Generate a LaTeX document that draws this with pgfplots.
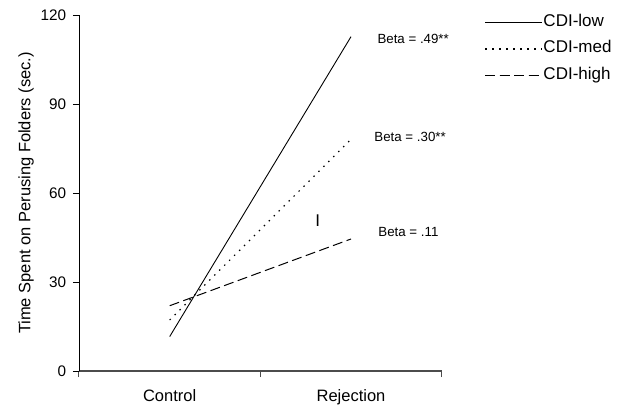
\documentclass[border=0pt]{standalone}
\usepackage{fontspec}
\setmainfont{Liberation Sans}
\usepackage{pgfplots}
\pgfplotsset{compat=1.18}
\begin{document}
\fontsize{14}{16.8}\selectfont
\begin{tikzpicture}
\useasboundingbox (-79pt,-36pt) rectangle (545pt,371pt);
\begin{axis}[
  at={(0pt,0pt)}, anchor=south west,
  scale only axis, width=362.7pt, height=356pt,
  xmin=-0.5, xmax=1.5, ymin=0, ymax=120,
  axis x line=bottom, axis y line=left,
  axis line style={-},
  x axis line style={draw=black!70, line width=1.3pt},
  y axis line style={line width=0.8pt},
  tick align=outside, major tick length=6pt,
  /pgf/number format/assume math mode=true,
  xtick={-0.5,0.5,1.5}, xticklabels={},
  xtick style={draw=black!70, line width=1pt},
  ytick={0,30,60,90,120},
  ytick style={draw=black, line width=0.8pt},
  xticklabel style={font=\fontsize{16.5}{19.8}\selectfont},
  yticklabel style={font=\fontsize{15.3}{18}\selectfont, xshift=-2pt},
  extra x ticks={0,1}, extra x tick labels={Control,Rejection},
  extra x tick style={major tick length=0pt, xticklabel style={anchor=base, yshift=-30.7pt}},
  ylabel={Time Spent on Perusing Folders (sec.)},
  ylabel style={at={(axis description cs:-0.1461,0.5)}, anchor=center, font=\fontsize{16.5}{19.8}\selectfont},
  clip=false,
  legend cell align=left,
  legend image code/.code={\path (0pt,0pt) -- (56.7pt,0pt);\draw[#1] (0pt,0pt) -- (52pt,0pt);},
  legend style={at={(axis description cs:1.1177,1.0056)}, anchor=north west,
    draw=none, fill=none, inner sep=0pt, row sep=8.7pt, column sep=0pt,
    font=\fontsize{17}{20.4}\selectfont,
    nodes={inner sep=1pt, text height=12pt, text depth=4pt}},
]
\addplot[black, line width=0.9pt] coordinates {(0,11.6) (1,112.7)};
\addlegendentry{CDI-low}
\addplot[black, line width=1.2pt, dash pattern=on 1.4pt off 5.6pt] coordinates {(0,17.2) (1,78.1)};
\addlegendentry{CDI-med}
\addplot[black, line width=1pt, dash pattern=on 10pt off 4.5pt] coordinates {(0,22) (1,44.5)};
\addlegendentry{CDI-high}
\node[anchor=west, inner sep=0pt, font=\fontsize{13.3}{16}\selectfont] at (axis cs:1.1449,112.0) {Beta = .49**};
\node[anchor=west, inner sep=0pt, font=\fontsize{13.3}{16}\selectfont] at (axis cs:1.128,78.8) {Beta = .30**};
\node[anchor=west, inner sep=0pt, font=\fontsize{13.3}{16}\selectfont] at (axis cs:1.150,46.75) {Beta = .11};
\node[inner sep=0pt, font=\fontsize{17}{20.4}\selectfont] at (axis cs:0.816,50.8) {I};
\end{axis}
\end{tikzpicture}
\end{document}
